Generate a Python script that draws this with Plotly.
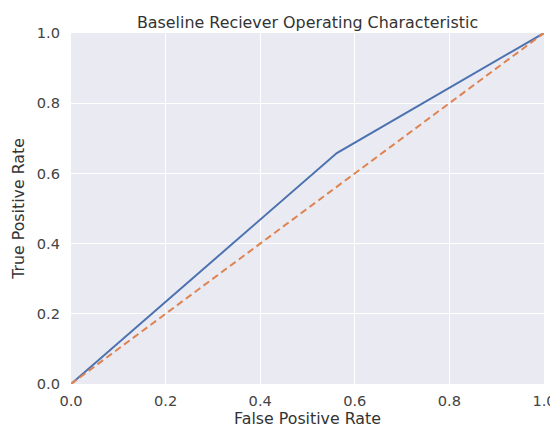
import plotly.graph_objects as go

fpr = [0.0, 0.562, 1.0]
tpr = [0.0, 0.658, 1.0]
diag_x = [0.0, 1.0]
diag_y = [0.0, 1.0]
ticks = [0.0, 0.2, 0.4, 0.6, 0.8, 1.0]
tick_labels = ["0.0", "0.2", "0.4", "0.6", "0.8", "1.0"]

fig = go.Figure()
fig.add_trace(go.Scatter(x=fpr, y=tpr, mode="lines",
                         line=dict(color="#4c72b0", width=2), showlegend=False))
fig.add_trace(go.Scatter(x=diag_x, y=diag_y, mode="lines",
                         line=dict(color="#dd8452", width=2, dash="7px,4px"), showlegend=False))

# note: the page body has an 8px margin, so the figure is offset by 8px
font = dict(family="DejaVu Sans", size=13, color="#333333")
fig.update_layout(
    width=550, height=421,
    margin=dict(l=63, r=14, t=25, b=45, autoexpand=False),
    paper_bgcolor="white", plot_bgcolor="#eaeaf2",
    font=font,
    title=dict(text="Baseline Reciever Operating Characteristic", x=0.5, xanchor="center",
               xref="paper", y=1, yref="paper", yanchor="bottom", pad=dict(b=5),
               font=dict(family="DejaVu Sans", size=15.9, color="#333333")),
    xaxis=dict(range=[0, 1], tickvals=ticks, ticktext=tick_labels, showgrid=True,
               gridcolor="white", gridwidth=1, zeroline=False, showline=False,
               ticks="", automargin=False, ticklabelstandoff=6,
               title=dict(text="False Positive Rate", standoff=4, font=dict(size=15.8)),
               tickfont=dict(size=14.6, color="#444444")),
    yaxis=dict(range=[0, 1], tickvals=ticks, ticktext=tick_labels, showgrid=True,
               gridcolor="white", gridwidth=1, zeroline=False, showline=False,
               ticks="", automargin=False, ticklabelstandoff=10,
               title=dict(text="True Positive Rate", standoff=8, font=dict(size=15.8)),
               tickfont=dict(size=14.6, color="#444444")),
)
fig.write_html("out.html")
